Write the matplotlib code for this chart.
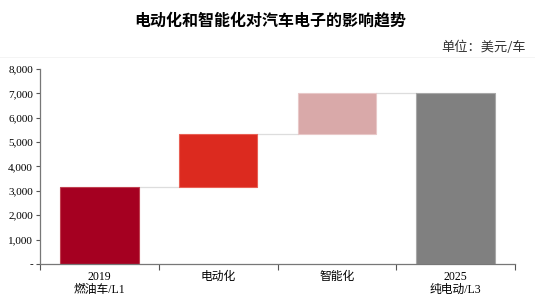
import matplotlib.pyplot as plt
import numpy as np

plt.rcParams['font.family'] = ['Liberation Serif', 'Noto Sans CJK SC']

categories = ['2019\n燃油车/L1', '电动化', '智能化', '2025\n纯电动/L3']
steps = [3150, 2200, 1650]
total = 7000
colors = ['#A50021', '#DC2A1F', '#D9A9A9', '#808080']

bottoms = [0, steps[0], steps[0] + steps[1], 0]
heights = [steps[0], steps[1], steps[2], total]

fig = plt.figure(figsize=(5.35, 3.08), dpi=100)
ax = fig.add_axes([0.0748, 0.1429, 0.8878, 0.6331])

x = np.arange(len(categories))
w = 0.66
ax.bar(x, heights, bottom=bottoms, width=w, color=colors,
       edgecolor=['#C04050', '#E86055', '#E8C8C8', '#A8A8A8'], linewidth=0.8, zorder=2)

# connector lines
tops = [b + h for b, h in zip(bottoms, heights)]
for i in range(len(x) - 1):
    ax.plot([x[i] + w / 2, x[i + 1] - w / 2], [tops[i], tops[i]],
            color='#DDDDDD', lw=0.9, zorder=1)

ax.set_xlim(-0.5, 3.5)
ax.set_ylim(0, 8000)
yt = np.arange(0, 8001, 1000)
ax.set_yticks(yt)
ax.set_yticklabels(['-'] + [f'{v:,}' for v in yt[1:]], fontsize=8)
ax.set_xticks(np.arange(-0.5, 3.6, 1))
ax.set_xticklabels([])
ax.set_xticks(x, minor=True)
ax.set_xticklabels(categories, minor=True, fontsize=8.5, linespacing=1.1)
ax.tick_params(axis='x', which='minor', length=0, pad=5)
ax.tick_params(axis='x', which='major', length=4, color='#555555', direction='out')
ax.tick_params(axis='y', length=3, color='#555555', pad=2)

for s in ['top', 'right']:
    ax.spines[s].set_visible(False)
for s in ['left', 'bottom']:
    ax.spines[s].set_color('#777777')
    ax.spines[s].set_linewidth(0.9)

fig.text(0.505, 0.935, '电动化和智能化对汽车电子的影响趋势', ha='center', va='center',
         fontsize=11.5, fontweight='bold', family=['Noto Sans CJK SC'])
fig.text(0.983, 0.848, '单位：美元/车', ha='right', va='center', fontsize=9.5,
         color='#333333', family=['Noto Sans CJK SC'])
fig.add_artist(plt.Line2D([0.0, 1.0], [0.815, 0.815], color='#F2F2F2', lw=0.6))

fig.savefig('out.png', dpi=100)
